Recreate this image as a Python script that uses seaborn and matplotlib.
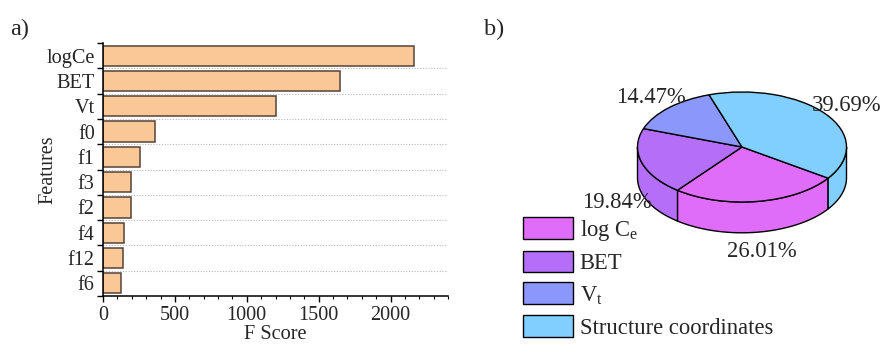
import numpy as np
import pandas as pd
import seaborn as sns
import matplotlib.pyplot as plt
from matplotlib.patches import Polygon, Patch

# ---- data ----
features = ["logCe", "BET", "Vt", "f0", "f1", "f3", "f2", "f4", "f12", "f6"]
f_scores = [2164, 1650, 1206, 363, 260, 198, 195, 147, 140, 127]

groups = ["log C$_\\mathregular{e}$", "BET", "V$_\\mathregular{t}$", "Structure coordinates"]
shares = [26.01, 19.84, 14.47, 39.69]
pie_colors = ["#E06CFA", "#B46EF8", "#8C97FC", "#80CFFF"]

sns.set_theme(style="ticks")
plt.rcParams["font.family"] = ["Liberation Serif", "DejaVu Serif"]
plt.rcParams["mathtext.fontset"] = "custom"
plt.rcParams["mathtext.rm"] = "Liberation Serif"
FS = 14.6
FS_PIE = 16.3

fig = plt.figure(figsize=(8.8, 3.44), dpi=100)

# ---- a) feature importance bars ----
ax = fig.add_axes([103 / 880, 1 - 296 / 344, (448 - 103) / 880, (296 - 43) / 344])
df = pd.DataFrame({"feature": features, "score": f_scores})
n = len(features)
for b in np.arange(0.5, n - 0.5, 1.0):
    ax.axhline(b, color="#b8b8b8", linestyle=(0, (1, 1.5)), linewidth=0.8, zorder=0)
sns.barplot(data=df, x="score", y="feature", orient="h", color="#FAC797",
            saturation=1, edgecolor="#54443a", linewidth=1.1, width=0.8, ax=ax, zorder=2)
ax.set_xlim(0, 2400)
ax.set_ylim(n - 0.5, -0.5)
ax.set_xticks(np.arange(0, 2001, 500))
ax.set_xticks(np.arange(0, 2401, 100), minor=True)
ax.set_yticks(np.arange(n))
ax.set_yticks(np.arange(-0.5, n, 1.0), minor=True)
ax.tick_params(axis="x", which="major", direction="out", length=4, width=1,
               labelsize=FS, pad=3, color="black")
ax.tick_params(axis="x", which="minor", direction="out", length=2.2, width=0.8, color="black")
ax.tick_params(axis="y", which="major", length=0, labelsize=FS, pad=6)
ax.tick_params(axis="y", which="minor", direction="out", length=4, width=1, color="black")
for s in ("top", "right"):
    ax.spines[s].set_visible(False)
for s in ("left", "bottom"):
    ax.spines[s].set_color("black")
    ax.spines[s].set_linewidth(1.1)
ax.set_xlabel("F Score", fontsize=FS, labelpad=0)
ax.set_ylabel("Features", fontsize=FS)
ax.yaxis.set_label_coords(-0.131, 0.5)
ax.grid(False)

fig.text(10 / 880, 1 - 29 / 344, "a)", fontsize=17.5, va="center", ha="left")
fig.text(484 / 880, 1 - 29 / 344, "b)", fontsize=17.5, va="center", ha="left")

# ---- b) 3-D style pie ----
pax = fig.add_axes([480 / 880, 0, 400 / 880, 1])
start = -34.5
depth = 0.56
fr = np.array(shares) / np.sum(shares)
edges = start - 360 * np.concatenate([[0], np.cumsum(fr)])

# side walls (front half only)
for i, col in enumerate(pie_colors):
    hi, lo = edges[i], edges[i + 1]
    for m in (-1, 0):
        a0, a1 = max(lo, -180 + 360 * m), min(hi, 360 * m)
        if a1 <= a0:
            continue
        t = np.radians(np.linspace(a1, a0, 60))
        top = np.column_stack([np.cos(t), np.sin(t)])
        bot = np.column_stack([np.cos(t[::-1]), np.sin(t[::-1]) - depth])
        pax.add_patch(Polygon(np.vstack([top, bot]), closed=True, facecolor=col,
                              edgecolor="black", linewidth=1, zorder=1))

wedges, _ = pax.pie(shares, colors=pie_colors, startangle=start, counterclock=False,
                    wedgeprops=dict(edgecolor="black", linewidth=1))
for w in wedges:
    w.set_zorder(3)

for i, v in enumerate(shares):
    mid = np.radians((edges[i] + edges[i + 1]) / 2)
    x, y = 1.25 * np.cos(mid), 1.25 * np.sin(mid)
    if y < 0:
        y -= depth + 0.1
    pax.text(x, y, f"{v:.2f}%", fontsize=FS_PIE, ha="center", va="center", zorder=5)

pax.set_aspect("auto")
pax.set_xlim(-262 / 104.5, 138 / 104.5)
pax.set_ylim(-(344 - 147) / 55, 147 / 55)
pax.axis("off")

handles = [Patch(facecolor=c, edgecolor="black", linewidth=1) for c in pie_colors]
fig.legend(handles, groups, loc="upper left", bbox_to_anchor=(523 / 880, 1 - 217 / 344),
           frameon=False, fontsize=FS_PIE, handlelength=2.2, handleheight=1.1,
           handletextpad=0.3, labelspacing=0.36, borderpad=0, borderaxespad=0)

fig.savefig("out.png", dpi=100)
